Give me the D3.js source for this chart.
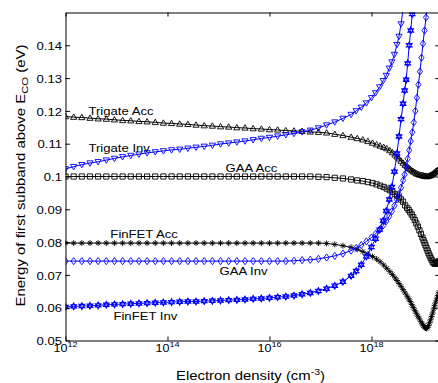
<!DOCTYPE html>
<html><head><meta charset="utf-8">
<script src="https://cdn.jsdelivr.net/npm/d3@7"></script>
<style>
body{margin:0;background:#fff;}
svg{display:block;}
text{font-family:"Liberation Sans",Arial,Helvetica,sans-serif;fill:#000;}
</style>
</head><body>
<svg id="chart" width="438" height="383"></svg>
<script>
// ---------- data (log10 of electron density in cm^-3, energy in eV) ----------
const accLogN = [12.00,12.16,12.32,12.48,12.64,12.80,12.96,13.12,13.28,13.44,13.60,13.76,13.92,14.08,14.24,14.40,14.56,14.72,14.88,15.04,15.20,15.36,15.52,15.68,15.84,16.00,16.16,16.32,16.48,16.64,16.80,16.96,17.12,17.28,17.44,17.60,
  17.72,17.83,17.93,18.02,18.10,18.17,18.24,18.30,18.36,18.41,18.46,18.50,18.54,18.58,18.62,18.66,18.70,18.73,18.76,18.79,18.82,18.85,18.88,18.91,18.94,18.97,19.00,19.02,19.04,19.06,19.08,19.10,19.12,19.14,19.16,19.18,19.20,19.22,19.24,19.26,19.28,19.30,19.32];
const invLogN = [12.00,12.16,12.32,12.48,12.64,12.80,12.96,13.12,13.28,13.44,13.60,13.76,13.92,14.08,14.24,14.40,14.56,14.72,14.88,15.04,15.20,15.36,15.52,15.68,15.84,16.00,16.16,16.32,16.48,16.64,16.80,16.96,17.12,17.28,17.44,17.60,
  17.70,17.80,17.90,18.00,18.08,18.16,18.23,18.29,18.35,18.40,18.45,18.50,18.54,18.58,18.62,18.65,18.68,18.71,18.74,18.77,18.80,18.83,18.86,18.89,18.92,18.95,18.98,19.01,19.04,19.07,19.10];

const trigateAcc = [0.1183,0.1181,0.1180,0.1178,0.1176,0.1175,0.1173,0.1171,0.1170,0.1168,0.1167,0.1165,0.1163,0.1162,0.1160,0.1159,0.1157,0.1155,0.1154,0.1152,0.1151,0.1149,0.1148,0.1146,0.1145,0.1143,0.1142,0.1140,0.1139,0.1138,0.1136,0.1135,0.1133,0.1129,0.1125,0.1120,
  0.1116,0.1112,0.1107,0.1102,0.1097,0.1093,0.1089,0.1085,0.1079,0.1073,0.1066,0.1060,0.1054,0.1047,0.1041,0.1035,0.1030,0.1026,0.1022,0.1018,0.1015,0.1012,0.1009,0.1007,0.1005,0.1004,0.1003,0.1002,0.1001,0.1001,0.1000,0.1000,0.1001,0.1002,0.1003,0.1005,0.1007,0.1010,0.1012,0.1015,0.1017,0.1019,0.1022];
const gaaAcc = [0.1000,0.1000,0.1000,0.1000,0.1000,0.1000,0.1000,0.1000,0.1000,0.1000,0.1000,0.1000,0.1000,0.1000,0.1000,0.1000,0.1000,0.1000,0.1000,0.1000,0.1000,0.1000,0.1000,0.1000,0.1000,0.1000,0.1000,0.1000,0.1000,0.1000,0.1000,0.0999,0.0998,0.0996,0.0994,0.0991,
  0.0988,0.0986,0.0983,0.0980,0.0976,0.0972,0.0968,0.0963,0.0958,0.0953,0.0947,0.0942,0.0936,0.0930,0.0923,0.0912,0.0904,0.0898,0.0891,0.0884,0.0876,0.0867,0.0857,0.0847,0.0836,0.0825,0.0814,0.0806,0.0798,0.0790,0.0782,0.0774,0.0766,0.0759,0.0752,0.0746,0.0740,0.0736,0.0734,0.0734,0.0736,0.0739,0.0742];
const finfetAcc = [0.0797,0.0797,0.0797,0.0797,0.0797,0.0797,0.0797,0.0797,0.0797,0.0797,0.0797,0.0797,0.0797,0.0797,0.0797,0.0797,0.0797,0.0797,0.0797,0.0797,0.0797,0.0797,0.0797,0.0797,0.0797,0.0797,0.0797,0.0797,0.0797,0.0797,0.0797,0.0797,0.0796,0.0793,0.0789,0.0784,
  0.0778,0.0771,0.0764,0.0756,0.0748,0.0740,0.0730,0.0720,0.0710,0.0701,0.0691,0.0683,0.0674,0.0665,0.0655,0.0645,0.0635,0.0627,0.0619,0.0610,0.0601,0.0592,0.0583,0.0574,0.0566,0.0557,0.0550,0.0545,0.0541,0.0538,0.0537,0.0540,0.0546,0.0554,0.0563,0.0573,0.0584,0.0596,0.0607,0.0617,0.0627,0.0637,0.0647];
const trigateInv = [0.1023,0.1030,0.1036,0.1041,0.1045,0.1050,0.1055,0.1060,0.1064,0.1068,0.1072,0.1075,0.1078,0.1081,0.1083,0.1086,0.1089,0.1092,0.1095,0.1099,0.1102,0.1105,0.1108,0.1112,0.1116,0.1119,0.1123,0.1127,0.1131,0.1136,0.1141,0.1148,0.1157,0.1166,0.1177,0.1189,
  0.1200,0.1211,0.1224,0.1240,0.1255,0.1273,0.1292,0.1308,0.1330,0.1349,0.1372,0.1402,0.1427,0.1465,0.1510,0.1560,null,null,null,null,null,null,null,null,null,null,null,null,null,null,null];
const gaaInv = [0.0742,0.0742,0.0742,0.0742,0.0742,0.0742,0.0742,0.0742,0.0742,0.0742,0.0742,0.0742,0.0742,0.0742,0.0742,0.0742,0.0742,0.0742,0.0742,0.0742,0.0742,0.0742,0.0742,0.0742,0.0742,0.0742,0.0742,0.0742,0.0743,0.0745,0.0746,0.0749,0.0753,0.0758,0.0765,0.0774,
  0.0782,0.0791,0.0802,0.0814,0.0825,0.0838,0.0851,0.0864,0.0879,0.0894,0.0911,0.0930,0.0947,0.0966,0.0988,0.1006,0.1028,0.1054,0.1080,0.1108,0.1135,0.1165,0.1200,0.1240,0.1280,0.1320,0.1362,0.1405,0.1445,0.1485,0.1525];
const finfetInv = [0.0602,0.0604,0.0605,0.0606,0.0607,0.0609,0.0610,0.0611,0.0612,0.0613,0.0614,0.0615,0.0616,0.0617,0.0618,0.0619,0.0619,0.0620,0.0621,0.0622,0.0623,0.0624,0.0625,0.0627,0.0628,0.0630,0.0632,0.0634,0.0637,0.0641,0.0645,0.0651,0.0658,0.0667,0.0679,0.0697,
  0.0712,0.0731,0.0756,0.0785,0.0810,0.0838,0.0865,0.0895,0.0930,0.0968,0.1015,0.1070,0.1122,0.1175,0.1222,0.1262,0.1295,0.1345,0.1400,0.1445,0.1495,0.1550,null,null,null,null,null,null,null,null,null];

const seriesNames = ["Trigate Acc","GAA Acc","FinFET Acc","Trigate Inv","GAA Inv","FinFET Inv"];
// label anchor in data coordinates [log10 density, energy]
const labelLogN   = [12.45, 15.14, 12.88, 12.45, 15.02, 12.94];
const labelEnergy = [0.1188, 0.1015, 0.0814, 0.1076, 0.0701, 0.0564];

const yTickValues = [0.05,0.06,0.07,0.08,0.09,0.10,0.11,0.12,0.13,0.14];
const yTickLabels = ["0.05","0.06","0.07","0.08","0.09","0.1","0.11","0.12","0.13","0.14"];
const xTickExponents = [12,14,16,18];

// ---------- layout ----------
const svg = d3.select("#chart");
const x = d3.scaleLog().domain([1e12, Math.pow(10,19.33)]).range([65.5, 439.3]);
const y = d3.scaleLinear().domain([0.05, 0.15]).range([340.5, 12.5]);
const X0 = x.range()[0], X1 = x.range()[1], Y0 = y.range()[0], Y1 = y.range()[1];
const BLUE = "#0000ff", BLACK = "#000000";

svg.append("defs").append("clipPath").attr("id","plotclip")
  .append("rect").attr("x",X0).attr("y",Y1).attr("width",X1-X0).attr("height",Y0-Y1);

// marker shapes
const markerPaths = {
  triUp:   "M0,-3.2L3.1,2.2L-3.1,2.2Z",
  triDown: "M0,3.2L3.1,-2.2L-3.1,-2.2Z",
  square:  "M-2.6,-2.6H2.6V2.6H-2.6Z",
  diamond: "M0,-3.6L2.6,0L0,3.6L-2.6,0Z",
  star:    "M-3,0H3M0,-3V3M-2.1,-2.1L2.1,2.1M-2.1,2.1L2.1,-2.1",
  hexagram:"M0,-3.3L2.8,1.65L-2.8,1.65ZM0,3.3L2.8,-1.65L-2.8,-1.65Z"
};

const series = [
  {logN: accLogN, vals: trigateAcc, color: BLACK, marker: "triUp"},
  {logN: accLogN, vals: gaaAcc,     color: BLACK, marker: "square"},
  {logN: accLogN, vals: finfetAcc,  color: BLACK, marker: "star"},
  {logN: invLogN, vals: trigateInv, color: BLUE,  marker: "triDown"},
  {logN: invLogN, vals: gaaInv,     color: BLUE,  marker: "diamond"},
  {logN: invLogN, vals: finfetInv,  color: BLUE,  marker: "hexagram"}
];

const plot = svg.append("g").attr("clip-path","url(#plotclip)");
const line = d3.line().defined(d => d[1] != null)
  .x(d => x(Math.pow(10, d[0]))).y(d => y(d[1]));

series.forEach(s => {
  const pts = s.logN.map((l,i) => [l, s.vals[i]]);
  const g = plot.append("g");
  g.append("path").datum(pts).attr("d", line)
    .attr("fill","none").attr("stroke", s.color).attr("stroke-width", 1);
  g.selectAll("path.m").data(pts.filter(d => d[1] != null)).join("path")
    .attr("class","m")
    .attr("transform", d => `translate(${x(Math.pow(10,d[0]))},${y(d[1])})`)
    .attr("d", markerPaths[s.marker])
    .attr("fill", s.marker === "hexagram" ? "rgba(0,0,255,0.35)" : "none")
    .attr("stroke", s.color).attr("stroke-width", s.marker === "hexagram" ? 1.1 : 0.9);
});

// ---------- axes ----------
const axL = svg.append("g").attr("transform",`translate(${X0},0)`)
  .call(d3.axisLeft(y).tickValues(yTickValues).tickSizeInner(-4.5).tickSizeOuter(0).tickPadding(3.5)
    .tickFormat((d,i) => yTickLabels[i]));
const axR = svg.append("g").attr("transform",`translate(${X1},0)`)
  .call(d3.axisRight(y).tickValues(yTickValues).tickSizeInner(-4).tickSizeOuter(0).tickFormat(() => ""));
const xTickVals = xTickExponents.map(e => Math.pow(10,e));
const axB = svg.append("g").attr("transform",`translate(0,${Y0})`)
  .call(d3.axisBottom(x).tickValues(xTickVals).tickSizeInner(-4).tickSizeOuter(0).tickFormat(() => ""));
const axT = svg.append("g").attr("transform",`translate(0,${Y1})`)
  .call(d3.axisTop(x).tickValues(xTickVals).tickSizeInner(-4).tickSizeOuter(0).tickFormat(() => ""));
[axL,axR,axB,axT].forEach(a => {
  a.selectAll("path.domain").attr("stroke","#000").attr("stroke-width",1);
  a.selectAll("line").attr("stroke","#000").attr("stroke-width",1);
});
axL.selectAll("text").attr("font-family",'"Liberation Sans",Arial,sans-serif')
  .attr("font-size","11.5px").attr("fill","#000").attr("dy",null).attr("y",4.1);

// x tick labels 10^n
xTickExponents.forEach(e => {
  const t = svg.append("text").attr("x", x(Math.pow(10,e)) - 12).attr("y", 351.5)
    .attr("font-size","11px");
  t.append("tspan").text("10");
  t.append("tspan").attr("font-size","8px").attr("dy",-5).text(String(e));
});

// series labels
seriesNames.forEach((n,i) => {
  svg.append("text").attr("class","lbl")
    .attr("x", x(Math.pow(10,labelLogN[i]))).attr("y", y(labelEnergy[i]))
    .attr("font-size","11.5px").text(n);
});

// axis titles
const xt = svg.append("text").attr("x", 250.5).attr("y", 380).attr("text-anchor","middle")
  .attr("font-size","12px");
xt.append("tspan").text("Electron density (cm");
xt.append("tspan").attr("font-size","8.5px").attr("dy",-5).text("-3");
xt.append("tspan").attr("dy",5).text(")");

const yt = svg.append("text").attr("transform","translate(25,175.5) rotate(-90)")
  .attr("text-anchor","middle").attr("font-size","12px");
yt.append("tspan").text("Energy of first subband above E");
yt.append("tspan").attr("font-size","9px").attr("dy",3).text("CO");
yt.append("tspan").attr("dy",-3).text(" (eV)");

// widen glyphs slightly to match the reference rendering
svg.selectAll("text").each(function(){
  const len = this.getComputedTextLength();
  this.setAttribute("textLength", (len*1.14).toFixed(1));
  this.setAttribute("lengthAdjust","spacingAndGlyphs");
});
xt.attr("textLength",149);
yt.attr("textLength",262);
</script>
</body></html>
